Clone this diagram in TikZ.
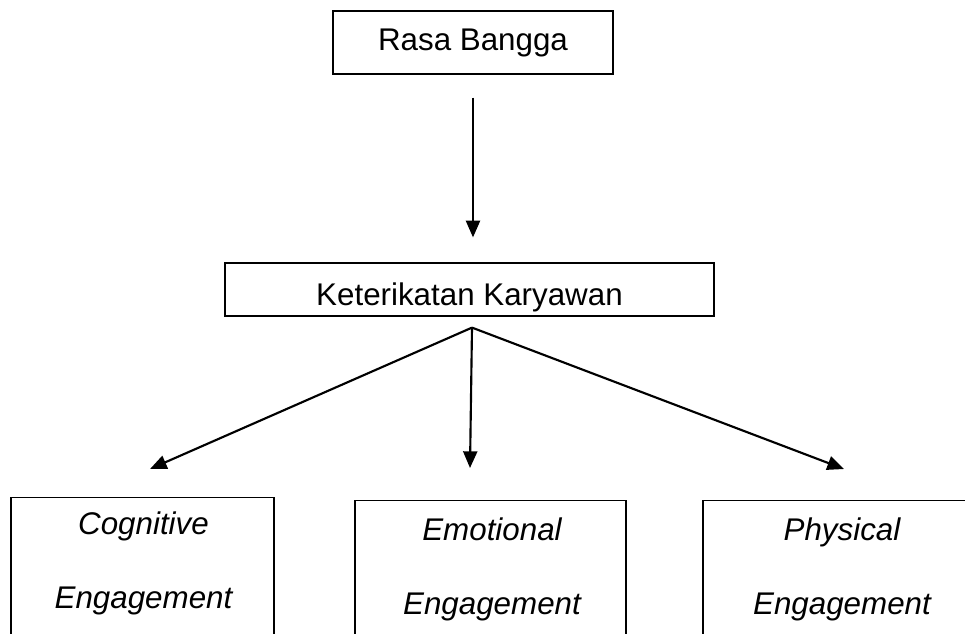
\documentclass[tikz,border=0pt]{standalone}
\usepackage{fontspec}
\setmainfont{Liberation Sans}
\usetikzlibrary{arrows.meta,calc}
\tikzset{every picture/.style={x=0.75pt,y=-0.75pt}}
\tikzset{box/.style={draw,line width=0.9pt,inner sep=0pt,font=\fontsize{23.5}{28}\selectfont}}
\tikzset{engbox/.style={box,anchor=north,minimum height=150pt}}
\tikzset{engtext/.style={align=center,inner sep=0pt,font=\fontsize{23.5}{55.5}\selectfont\itshape}}
\tikzset{link/.style={line width=1.6pt,-{Triangle[length=12.5pt,width=10.5pt]}}}

\begin{document}
\begin{tikzpicture}
        \useasboundingbox (0,0) rectangle (965,633);
        \clip (0,0) rectangle (965,633);
        \node[box,minimum width=210pt,minimum height=47.25pt] (rasa) at (473,42.5) {Rasa Bangga};
        \node[box,minimum width=366.75pt,minimum height=39.75pt,text height=23.5pt,text depth=0pt] (ket) at (469.5,289.5) {Keterikatan Karyawan};
        \node[engbox,minimum width=197.25pt] (cog) at (142.5,497) {};
        \node[engbox,minimum width=203.25pt] (emo) at (490.5,500) {};
        \node[engbox,minimum width=202.5pt] (phy) at (838,500) {};
        \node[engtext] (cogtxt) at ($(cog.north)+(1,66)$) {Cognitive\\Engagement};
        \node[engtext] (emotxt) at ($(emo.north)+(1.5,69)$) {Emotional\\Engagement};
        \node[engtext] (phytxt) at ($(phy.north)+(4,69)$) {Physical\\Engagement};
        \coordinate (rasaend) at ($(rasa.south)+(0,23)$);
        \coordinate (ketend) at ($(ket.north)+(3.5,-25)$);
        \coordinate (hub) at ($(ket.south)+(2.5,11)$);
        \coordinate (cogend) at ($(cog.north)+(7.5,-28)$);
        \coordinate (emoend) at ($(emo.north)+(-20.5,-32)$);
        \coordinate (phyend) at ($(phy.north)+(6,-31)$);
        \draw[link] (rasaend) -- (ketend);
        \draw[link] (hub) -- (cogend);
        \draw[link] (hub) -- (emoend);
        \draw[link] (hub) -- (phyend);
    \end{tikzpicture}
\end{document}
